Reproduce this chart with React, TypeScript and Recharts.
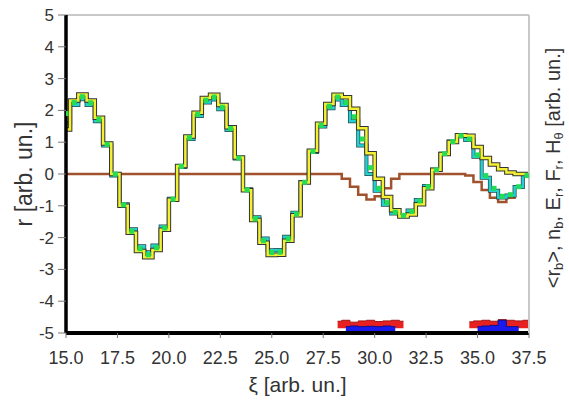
import { ComposedChart, Line, Area, XAxis, YAxis, ReferenceLine } from "recharts"

// sampling positions along ξ
const xi = [
  15.0, 15.4, 15.8, 16.2, 16.6, 17.0, 17.4, 17.8, 18.2, 18.6,
  19.0, 19.4, 19.8, 20.2, 20.6, 21.0, 21.4, 21.8, 22.2, 22.6,
  23.0, 23.4, 23.8, 24.2, 24.6, 25.0, 25.4, 25.8, 26.2, 26.6,
  27.0, 27.4, 27.8, 28.2, 28.6, 29.0, 29.4, 29.8, 30.2, 30.6,
  31.0, 31.4, 31.8, 32.2, 32.6, 33.0, 33.4, 33.8, 34.2, 34.6,
  35.0, 35.4, 35.8, 36.2, 36.6, 37.0, 37.4, 37.8,
]

// r (yellow)
const rYellow = [
  1.4, 2.31, 2.5, 2.31, 1.77, 0.96, 0.0, -1.0, -1.85, -2.42,
  -2.62, -2.39, -1.75, -0.81, 0.25, 1.18, 1.93, 2.39, 2.49, 2.17,
  1.47, 0.52, -0.51, -1.45, -2.16, -2.55, -2.54, -2.1, -1.3, -0.27,
  0.73, 1.58, 2.2, 2.49, 2.41, 2.05, 1.44, 0.65, -0.15, -0.72,
  -1.14, -1.34, -1.27, -0.95, -0.45, 0.13, 0.63, 1.01, 1.22, 1.2,
  0.85, 0.5, 0.3, 0.15, 0.05, 0.0, 0.0, 0.0,
]

// <r_b> (cyan)
const rCyan = [
  1.6, 2.17, 2.35, 2.17, 1.66, 0.9, -0.05, -0.95, -1.74, -2.27,
  -2.46, -2.25, -1.65, -0.78, 0.22, 1.1, 1.82, 2.25, 2.34, 2.04,
  1.38, 0.49, -0.48, -1.36, -2.03, -2.4, -2.39, -1.97, -1.22, -0.25,
  0.69, 1.49, 2.07, 2.34, 2.17, 1.66, 0.9, 0.0, -0.53, -0.97,
  -1.24, -1.29, -1.15, -0.82, -0.38, 0.13, 0.64, 1.02, 1.19, 1.07,
  0.54, -0.12, -0.53, -0.74, -0.68, -0.41, -0.05, 0.0,
]

// n_b (green squares)
const rGreen = [
  1.9, 2.25, 2.43, 2.24, 1.72, 0.93, 0.0, -0.97, -1.8, -2.35,
  -2.54, -2.32, -1.7, -0.79, 0.24, 1.14, 1.87, 2.32, 2.42, 2.1,
  1.43, 0.5, -0.5, -1.41, -2.1, -2.47, -2.46, -2.04, -1.26, -0.26,
  0.71, 1.53, 2.13, 2.42, 2.25, 1.8, 1.1, 0.2, -0.45, -0.9,
  -1.2, -1.3, -1.18, -0.85, -0.4, 0.13, 0.64, 1.02, 1.2, 1.1,
  0.6, -0.05, -0.45, -0.7, -0.65, -0.4, -0.05, 0.0,
]

// E_r (brown)
const eBrown = [
  0, 0, 0, 0, 0, 0, 0, 0, 0, 0,
  0, 0, 0, 0, 0, 0, 0, 0, 0, 0,
  0, 0, 0, 0, 0, 0, 0, 0, 0, 0,
  0, 0, 0, 0, -0.15, -0.4, -0.65, -0.8, -0.7, -0.45,
  -0.15, 0, 0, 0, 0, 0, 0, 0, 0, -0.05,
  -0.25, -0.5, -0.75, -0.88, -0.75, -0.4, -0.05, 0,
]

// F_r (red band) and H_θ (blue band) near the bottom
const fRed = [
  null, null, null, null, null, null, null, null, null, null,
  null, null, null, null, null, null, null, null, null, null,
  null, null, null, null, null, null, null, null, null, null,
  null, null, null, -4.63, -4.6, -4.66, -4.62, -4.6, -4.64, -4.62,
  -4.6, -4.63, null, null, null, null, null, null, null, -4.65,
  -4.62, -4.6, -4.63, -4.58, -4.6, -4.62, -4.6, -4.62,
]
const hBlue = [
  null, null, null, null, null, null, null, null, null, null,
  null, null, null, null, null, null, null, null, null, null,
  null, null, null, null, null, null, null, null, null, null,
  null, null, null, null, -4.8, -4.78, -4.8, -4.79, -4.8, -4.78,
  -4.8, null, null, null, null, null, null, null, null, null,
  -4.8, -4.78, -4.76, -4.6, -4.8, -4.8, null, null,
]

const xTicks = [15, 17.5, 20, 22.5, 25, 27.5, 30, 32.5, 35, 37.5]
const yTicks = [-5, -4, -3, -2, -1, 0, 1, 2, 3, 4, 5]

const data = xi.map((x, i) => ({
  xi: x,
  yellow: rYellow[i],
  cyan: rCyan[i],
  green: rGreen[i],
  brown: eBrown[i],
  red: fRed[i],
  blue: hBlue[i],
}))

const font = "'Liberation Sans', Arial, sans-serif"

function LeftTitle(props: any) {
  const { viewBox } = props
  const cx = viewBox.x + 24
  const cy = viewBox.y + viewBox.height / 2
  return (
    <text x={cx} y={cy} transform={`rotate(-90 ${cx} ${cy})`} textAnchor="middle" dominantBaseline="central"
      fontSize={23} fill="#333" fontFamily={font}>
      r [arb. un.]
    </text>
  )
}

function RightTitle(props: any) {
  const { viewBox } = props
  const cx = viewBox.x + 24
  const cy = viewBox.y + viewBox.height / 2 - 6
  return (
    <text x={cx} y={cy} transform={`rotate(-90 ${cx} ${cy})`} textAnchor="middle" dominantBaseline="central"
      fontSize={20} fill="#333" fontFamily={font}>
      {"<r"}
      <tspan dy={5} fontSize={13}>b</tspan>
      <tspan dy={-5}>{">, n"}</tspan>
      <tspan dy={5} fontSize={13}>b</tspan>
      <tspan dy={-5}>, E</tspan>
      <tspan dy={5} fontSize={13}>r</tspan>
      <tspan dy={-5}>, F</tspan>
      <tspan dy={5} fontSize={13}>r</tspan>
      <tspan dy={-5}>, H</tspan>
      <tspan dy={5} fontSize={13}>θ</tspan>
      <tspan dy={-5}> [arb. un.]</tspan>
    </text>
  )
}

function BottomTitle(props: any) {
  const { viewBox } = props
  return (
    <text x={viewBox.x + viewBox.width / 2} y={viewBox.y + 59} textAnchor="middle"
      fontSize={21} fill="#333" fontFamily={font}>
      ξ [arb. un.]
    </text>
  )
}

function GreenSquare(props: any) {
  const { cx, cy, index } = props
  if (cx == null || cy == null) return <g key={`g${index}`} />
  return <rect key={`g${index}`} x={cx - 2.5} y={cy - 2.5} width={5} height={5} fill="#22dd55" />
}

export default function App() {
  return (
    <div style={{ position: "absolute", left: 0, top: 0, width: 569, height: 400, background: "#fff" }}>
      <ComposedChart width={569} height={400} data={data} margin={{ top: 15, right: 0, bottom: 0, left: 0 }}>
        <XAxis
          dataKey="xi"
          type="number"
          domain={[15, 37.5]}
          ticks={xTicks}
          tickFormatter={(v: number) => v.toFixed(1)}
          axisLine={{ stroke: "#000", strokeWidth: 4 }}
          tickLine={{ stroke: "#777" }}
          tickSize={5}
          tickMargin={13}
          tick={{ fontSize: 18, fill: "#333", fontFamily: font }}
          height={67}
          allowDataOverflow
          label={{ content: BottomTitle }}
        />
        <YAxis
          yAxisId="l"
          domain={[-5, 5]}
          ticks={yTicks}
          width={66}
          axisLine={{ stroke: "#000", strokeWidth: 3.5 }}
          tickLine={{ stroke: "#777" }}
          tickSize={8}
          tickMargin={4}
          tick={{ fontSize: 17, fill: "#333", fontFamily: font }}
          allowDataOverflow
          label={{ content: LeftTitle }}
        />
        <YAxis
          yAxisId="r"
          orientation="right"
          domain={[-5, 5]}
          width={40}
          tick={false}
          tickLine={false}
          axisLine={{ stroke: "#c8c8c8", strokeWidth: 2 }}
          label={{ content: RightTitle }}
        />
        <ReferenceLine yAxisId="l" y={5} stroke="#c8c8c8" strokeWidth={2} />

        <Area yAxisId="l" type="step" dataKey="red" baseValue={-4.85} fill="#e82020" fillOpacity={1}
          stroke="#a01818" strokeWidth={1} isAnimationActive={false} />
        <Area yAxisId="l" type="step" dataKey="blue" baseValue={-5} fill="#1a1aee" fillOpacity={1}
          stroke="#10108a" strokeWidth={1} isAnimationActive={false} />

        <Line yAxisId="l" type="step" dataKey="brown" stroke="#a0522d" strokeWidth={2.5} dot={false}
          isAnimationActive={false} />

        <Line yAxisId="l" type="step" dataKey="cyan" stroke="#2a4848" strokeWidth={4} dot={false}
          isAnimationActive={false} />
        <Line yAxisId="l" type="step" dataKey="cyan" stroke="#22d0d6" strokeWidth={2.5} dot={false}
          isAnimationActive={false} />
        <Line yAxisId="l" type="step" dataKey="yellow" stroke="#333" strokeWidth={4.5} dot={false}
          isAnimationActive={false} />
        <Line yAxisId="l" type="step" dataKey="yellow" stroke="#f2f030" strokeWidth={2.5} dot={false}
          isAnimationActive={false} />
        <Line yAxisId="l" type="step" dataKey="green" stroke="none" dot={GreenSquare} activeDot={false}
          isAnimationActive={false} />
      </ComposedChart>
    </div>
  )
}
